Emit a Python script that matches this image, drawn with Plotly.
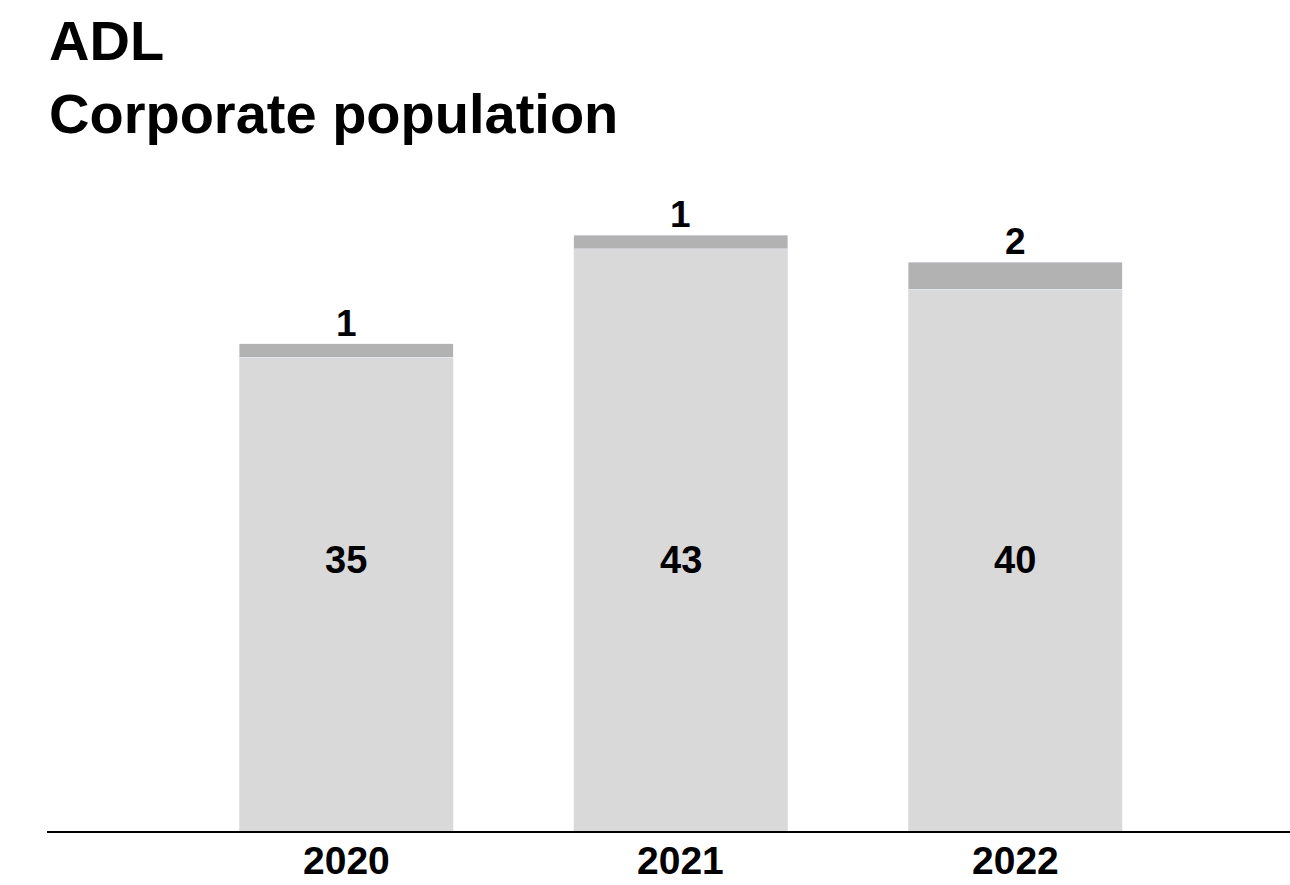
import plotly.graph_objects as go

years = ["2020", "2021", "2022"]
base_values = [35, 43, 40]
top_values = [1, 1, 2]

W, H = 1290, 885
ML, MR, MT, MB = 47, 0, 150, 54
ymax = 50.3
FONT = "Liberation Sans, Arial, sans-serif"

fig = go.Figure()
fig.add_trace(go.Bar(x=years, y=base_values, marker_color="#d9d9d9",
                     width=0.64, hoverinfo="skip"))
fig.add_trace(go.Bar(x=years, y=top_values, marker_color="#b2b2b2",
                     width=0.64, hoverinfo="skip"))

plot_h = H - MT - MB
def py(pix):
    return (H - MB - pix) / plot_h

annotations = []
for i, (yr, b, t) in enumerate(zip(years, base_values, top_values)):
    annotations.append(dict(x=i, y=20, text=str(b), showarrow=False,
                            font=dict(family=FONT, size=38, color="black", weight="bold"),
                            xanchor="center", yanchor="middle"))
    annotations.append(dict(x=i, y=b + t, text=str(t), showarrow=False,
                            font=dict(family=FONT, size=37, color="black", weight="bold"),
                            xanchor="center", yanchor="bottom", yshift=-2))
    annotations.append(dict(x=i, yref="paper", y=py(861), text=yr, showarrow=False,
                            font=dict(family=FONT, size=39, color="black", weight="bold"),
                            xanchor="center", yanchor="middle"))

annotations.append(dict(xref="paper", yref="paper", x=0, y=py(7), text="ADL",
                        showarrow=False, xanchor="left", yanchor="top",
                        font=dict(family=FONT, size=56, color="black", weight="bold")))
annotations.append(dict(xref="paper", yref="paper", x=0, y=py(80), text="Corporate population",
                        showarrow=False, xanchor="left", yanchor="top",
                        font=dict(family=FONT, size=56, color="black", weight="bold")))

fig.update_layout(
    width=W, height=H,
    margin=dict(l=ML, r=MR, t=MT, b=MB, autoexpand=False),
    barmode="stack", showlegend=False,
    plot_bgcolor="white", paper_bgcolor="white",
    annotations=annotations,
    xaxis=dict(type="category", range=[-0.894, 2.822], showline=True, linecolor="black", linewidth=2,
               ticks="", showticklabels=False, automargin=False,
               showgrid=False, zeroline=False, fixedrange=True),
    yaxis=dict(range=[0, ymax], visible=False, showgrid=False, zeroline=False, fixedrange=True,
               automargin=False),
)

fig.write_html("out.html", config={"displayModeBar": False},
               post_script="document.body.style.margin='0';document.body.style.overflow='hidden';")
